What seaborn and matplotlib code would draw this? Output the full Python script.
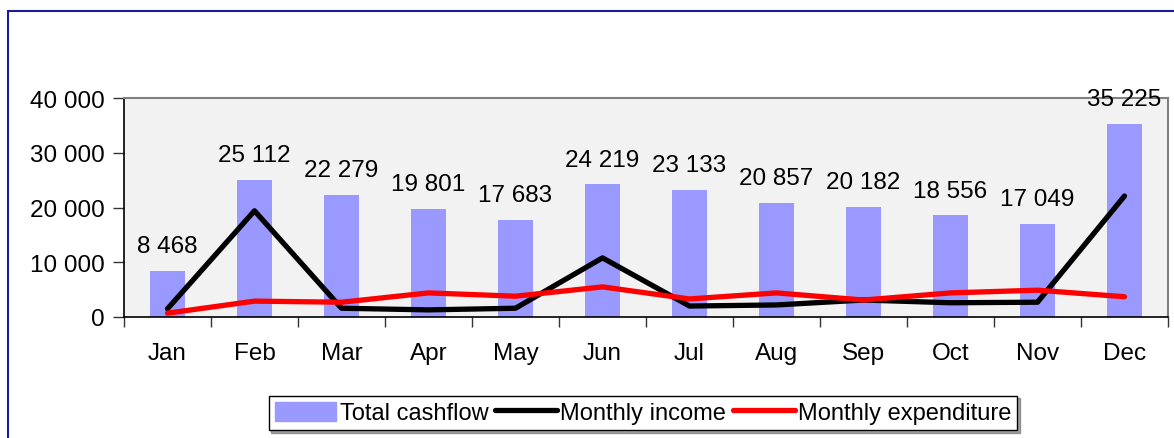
import numpy as np
import pandas as pd
import matplotlib as mplt
import matplotlib.pyplot as plt
import matplotlib.patches as mpatches
from matplotlib.lines import Line2D
from matplotlib.ticker import FuncFormatter
import seaborn as sns

sns.set_style('white')
mplt.rcParams['font.family'] = ['Liberation Sans', 'DejaVu Sans']
mplt.rcParams['font.size'] = 17.5
mplt.rcParams['text.color'] = 'black'
mplt.rcParams['xtick.color'] = 'black'
mplt.rcParams['ytick.color'] = 'black'

months = ['Jan', 'Feb', 'Mar', 'Apr', 'May', 'Jun', 'Jul', 'Aug', 'Sep', 'Oct', 'Nov', 'Dec']
total_cashflow = [8468, 25112, 22279, 19801, 17683, 24219, 23133, 20857, 20182, 18556, 17049, 35225]
monthly_income = [1500, 19400, 1600, 1300, 1600, 10800, 2000, 2200, 3100, 2600, 2700, 22100]
monthly_expenditure = [700, 2900, 2700, 4400, 3800, 5500, 3300, 4400, 3100, 4400, 4900, 3700]

df = pd.DataFrame({'Month': months, 'Total cashflow': total_cashflow,
                   'Monthly income': monthly_income, 'Monthly expenditure': monthly_expenditure})

bar_color = '#9999ff'
fs = 17.5

fig = plt.figure(figsize=(11.74, 4.39), dpi=100)
ax = fig.add_axes([124/1174, 1-318/439, (1168-124)/1174, (318-99)/439])
ax.set_facecolor('#f2f2f2')

sns.barplot(data=df, x='Month', y='Total cashflow', color=bar_color, width=0.4,
            saturation=1, ax=ax, order=months, linewidth=0, edgecolor='none')
sns.lineplot(data=df, x='Month', y='Monthly income', color='black', lw=3.8, sort=False, ax=ax)
sns.lineplot(data=df, x='Month', y='Monthly expenditure', color='red', lw=3.8, sort=False, ax=ax)

fmt = lambda v: f'{int(v):,}'.replace(',', ' ')
ax.bar_label(ax.containers[0], labels=[fmt(v) for v in total_cashflow], padding=10,
             fontsize=fs, color='black', clip_on=False)

ax.set_ylim(0, 40000)
ax.set_yticks([0, 10000, 20000, 30000, 40000])
ax.yaxis.set_major_formatter(FuncFormatter(lambda v, p: fmt(v)))
ax.set_xlim(-0.5, 11.5)
ax.set_xlabel('')
ax.set_ylabel('')

# ticks between categories, labels centred
ax.set_xticks(np.arange(-0.5, 12, 1), minor=False)
ax.set_xticklabels([])
ax.set_xticks(np.arange(12), minor=True)
ax.set_xticklabels(months, minor=True)
ax.tick_params(axis='x', which='major', direction='out', length=7, width=1, color='#333333')
ax.tick_params(axis='x', which='minor', length=0, pad=18, labelsize=fs)
ax.tick_params(axis='y', direction='out', length=8, width=1, color='#333333', pad=6, labelsize=fs)
ax.tick_params(left=True, bottom=True)

for side in ['left', 'bottom']:
    ax.spines[side].set_color('black')
    ax.spines[side].set_linewidth(1.2)
for side in ['top', 'right']:
    ax.spines[side].set_visible(True)
    ax.spines[side].set_color('#808080')
    ax.spines[side].set_linewidth(1.5)

handles = [mpatches.Patch(color=bar_color, label='Total cashflow'),
           Line2D([], [], color='black', lw=3.8, label='Monthly income'),
           Line2D([], [], color='red', lw=3.8, label='Monthly expenditure')]
leg = fig.legend(handles=handles, loc='center', bbox_to_anchor=(643/1174, 1-414/439), ncol=3,
                 fontsize=17, frameon=True, fancybox=False, shadow=True, handlelength=2.6,
                 handleheight=0.9, handletextpad=0.15, columnspacing=0.3, borderpad=0.25)
leg.get_frame().set_edgecolor('black')
leg.get_frame().set_linewidth(1)

# outer chart border
fig.patches.append(mpatches.Rectangle((8/1174, -0.1), 1.2, 1.1 - 12/439, transform=fig.transFigure,
                                      fill=False, edgecolor='#1a1aa0', lw=1.5))

fig.savefig('out.png', dpi=100)
